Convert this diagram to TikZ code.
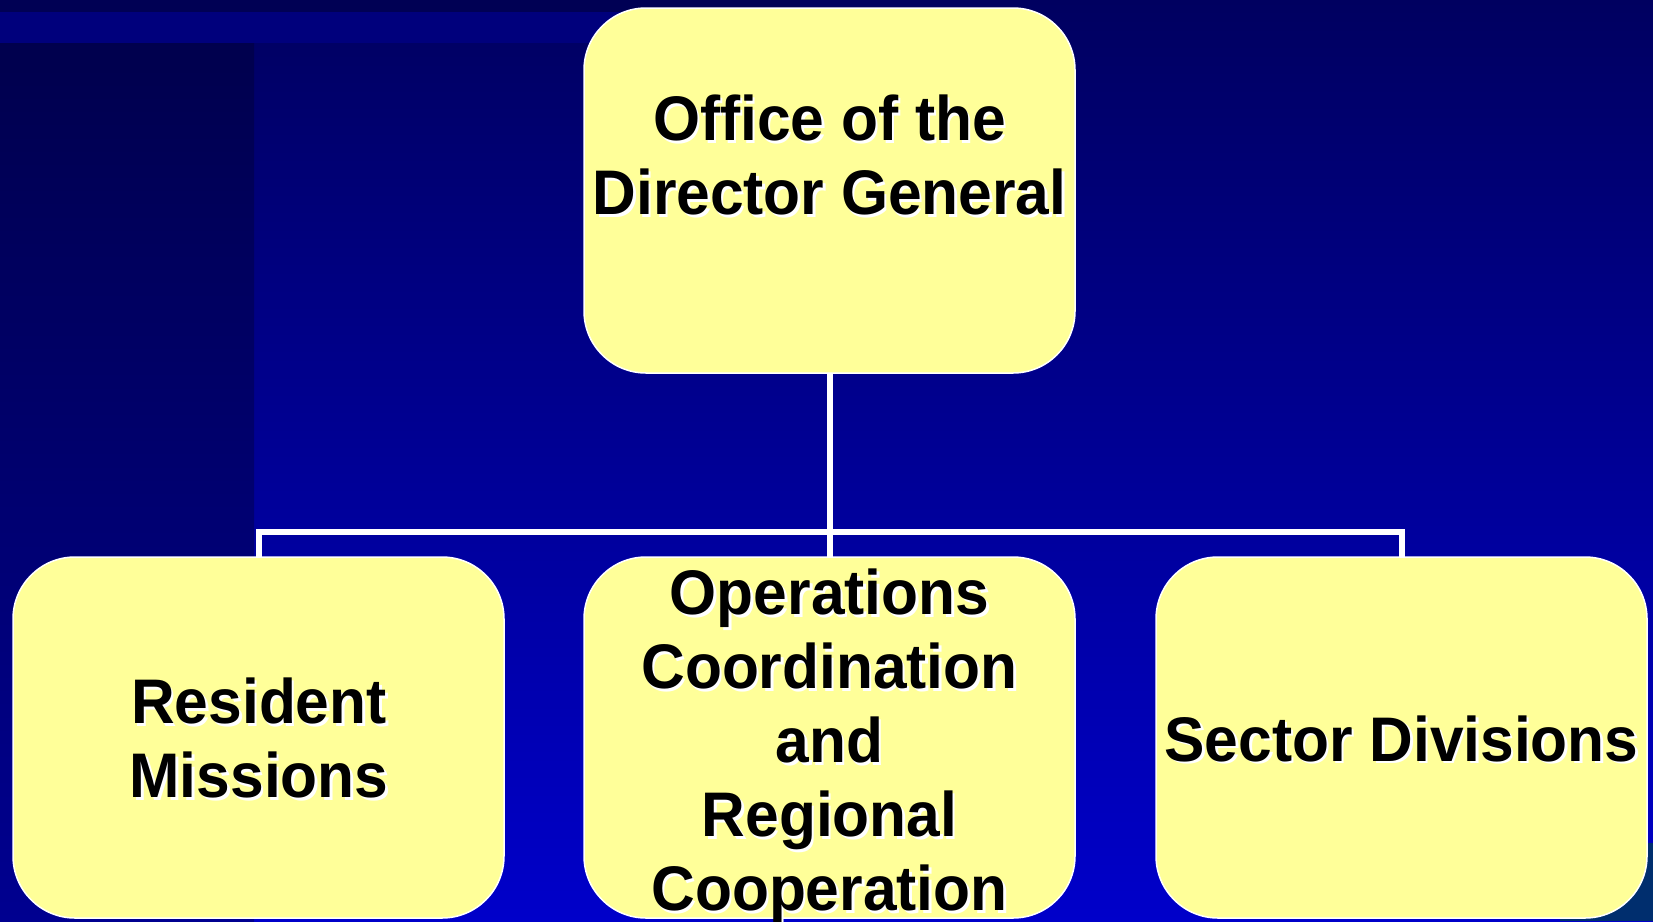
\documentclass[tikz,border=0pt]{standalone}
\usepackage{fontspec}
\newfontfamily\orgfont{Liberation Sans}[FakeStretch=0.96]
\usetikzlibrary{positioning, calc}

\definecolor{bgtop}{HTML}{000060}
\definecolor{bgbot}{HTML}{0000CA}
\definecolor{striptop}{HTML}{00004A}
\definecolor{stripbot}{HTML}{000090}
\definecolor{bandlow}{HTML}{000054}
\definecolor{bandhigh}{HTML}{00007C}
\definecolor{patch}{HTML}{002E6E}
\definecolor{unitfill}{HTML}{FFFF99}

% text with a white drop shadow, centred on a box
\newcommand{\boxlabel}[3]{%
  \node[boxtext, text=white] at ($(#1.center)+(#2)+(2.5,2.5)$) {#3};
  \node[boxtext] (#1-txt) at ($(#1.center)+(#2)$) {#3};}

\begin{document}
\begin{tikzpicture}[
    x=1pt, y=-1pt,
    unit/.style={rectangle, draw=white, line width=1.5pt, fill=unitfill,
                 rounded corners=62pt, outer sep=0pt,
                 minimum width=491pt, minimum height=361pt},
    boxtext/.style={inner sep=0pt, align=center,
                    font=\orgfont\bfseries\fontsize{63}{74}\selectfont},
    link/.style={draw=white, line width=6pt}
]
  \useasboundingbox (0,0) rectangle (1653,921);
  \clip (0,0) rectangle (1653,921);

  % Background
  \shade[top color=bgtop, bottom color=bgbot] (0,0) rectangle (1653,921);
  \shade[top color=striptop, bottom color=stripbot] (0,0) rectangle (254,921);
  \fill[bandlow] (0,0) rectangle (800,12);
  \fill[bandhigh] (0,12) rectangle (800,43);
  \fill[patch] (1560,843) rectangle (1653,921);

  % Units
  \node[unit, minimum height=365pt] (dg) at (829.5,190.5) {};
  \node[unit, below=184pt of dg] (oc) {};
  \node[unit, left=80pt of oc] (rm) {};
  \node[unit, right=81pt of oc] (sd) {};

  % Connectors
  \coordinate[below=158.5pt of dg.south] (bus);
  \draw[link] (dg.south) -- (oc.north);
  \draw[link] (rm.north) |- (bus) -| (sd.north);

  % Labels
  \boxlabel{dg}{0,-35.5}{Office of the\\Director General}
  \boxlabel{rm}{0.5,0.5}{Resident\\Missions}
  \boxlabel{oc}{0,9}{Operations\\Coordination\\and\\Regional\\Cooperation}
  \boxlabel{sd}{0,1}{Sector Divisions}
\end{tikzpicture}
\end{document}
